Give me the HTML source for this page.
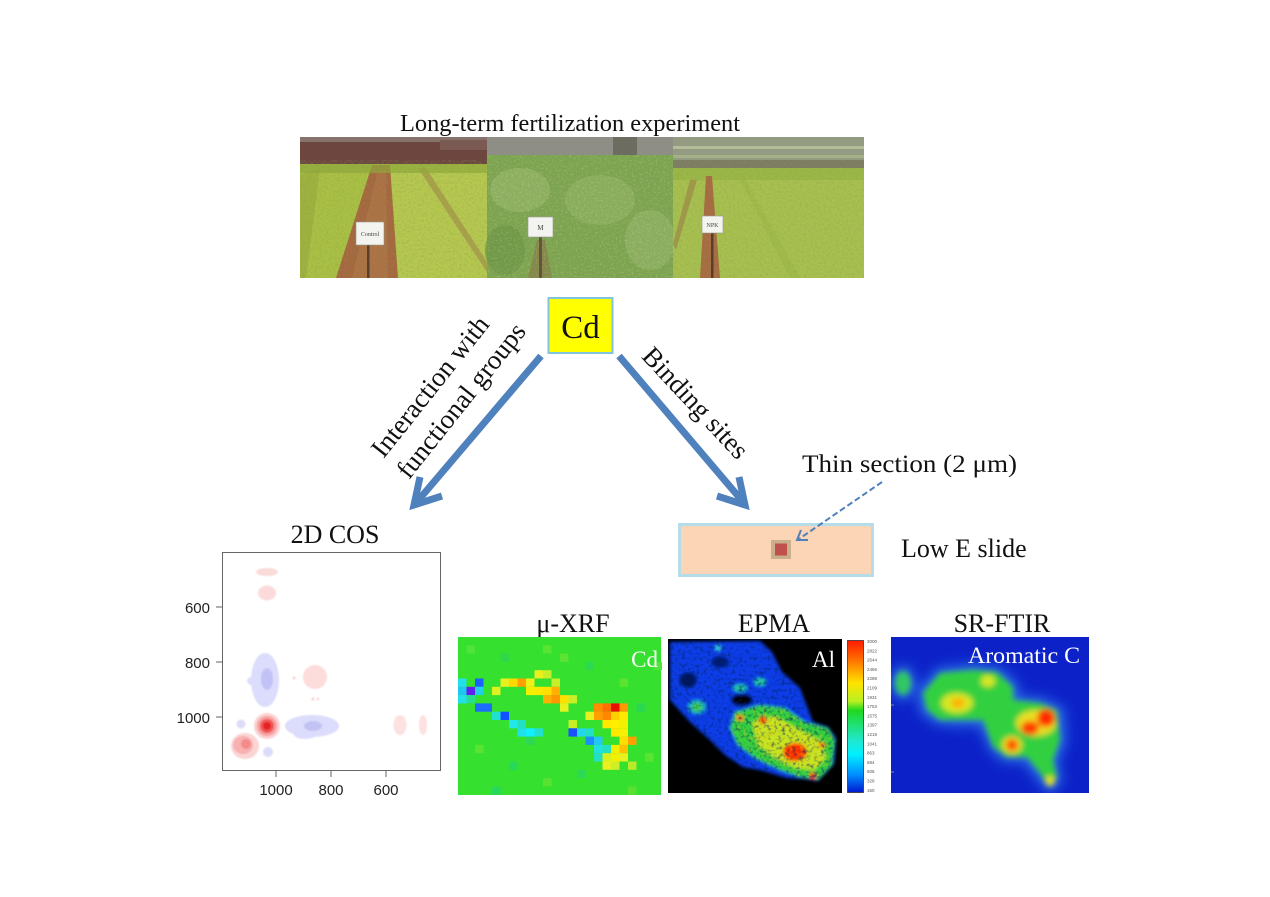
<!DOCTYPE html>
<html><head><meta charset="utf-8">
<style>
html,body{margin:0;padding:0;background:#fff;}
svg{display:block;}
</style></head><body>
<svg width="1270" height="897" viewBox="0 0 1270 897" xmlns="http://www.w3.org/2000/svg">
<defs>
 <filter id="b08"><feGaussianBlur stdDeviation="0.8"/></filter>
 <filter id="b15" x="-20%" y="-20%" width="140%" height="140%"><feGaussianBlur stdDeviation="1.5"/></filter>
 <filter id="b3" x="-20%" y="-20%" width="140%" height="140%"><feGaussianBlur stdDeviation="3"/></filter>
 <filter id="b6" x="-30%" y="-30%" width="160%" height="160%"><feGaussianBlur stdDeviation="6"/></filter>
 <filter id="noise" x="0" y="0" width="100%" height="100%">
   <feTurbulence type="fractalNoise" baseFrequency="0.45" numOctaves="2" seed="5"/>
   <feColorMatrix type="matrix" values="0 0 0 0 0.25  0 0 0 0 0.33  0 0 0 0 0.08  1.8 0 0 0 -0.75"/>
 </filter>
 <filter id="noise2" x="0" y="0" width="100%" height="100%">
   <feTurbulence type="fractalNoise" baseFrequency="0.5" numOctaves="2" seed="11"/>
   <feColorMatrix type="matrix" values="0 0 0 0 0.85  0 0 0 0 0.9  0 0 0 0 0.6  1.8 0 0 0 -0.9"/>
 </filter>
 <filter id="speck" x="0" y="0" width="100%" height="100%">
   <feTurbulence type="fractalNoise" baseFrequency="0.28" numOctaves="2" seed="7"/>
   <feColorMatrix type="matrix" values="0 0 0 0 0  0 0 0 0 0.02  0 0 0 0 0.12  3 0 0 0 -1.45"/>
 </filter>
 <filter id="speck2" x="0" y="0" width="100%" height="100%">
   <feTurbulence type="fractalNoise" baseFrequency="0.3" numOctaves="2" seed="19"/>
   <feColorMatrix type="matrix" values="0 0 0 0 1  0 0 0 0 0.55  0 0 0 0 0  3 0 0 0 -1.6"/>
 </filter>
 <clipPath id="cph"><rect x="300" y="137" width="564" height="141"/></clipPath>
 <clipPath id="cpe"><rect x="668" y="639" width="174" height="154"/></clipPath>
 <clipPath id="cpblob"><polygon points="670,642 760,641 772,652 782,672 800,688 813,722 828,727 836,738 834,764 818,781 806,779 787,778 760,770 743,767 725,755 710,740 690,722 670,700"/></clipPath>
 <clipPath id="cpgreen"><polygon points="735,712 760,705 785,708 805,722 828,728 835,740 832,765 818,780 800,777 780,770 755,758 738,745 730,728"/></clipPath>
 <clipPath id="cpf"><rect x="891" y="637" width="198" height="156"/></clipPath>
 <linearGradient id="cbar" x1="0" y1="0" x2="0" y2="1">
   <stop offset="0" stop-color="#ff1a00"/>
   <stop offset="0.12" stop-color="#ff6a00"/>
   <stop offset="0.28" stop-color="#ffe400"/>
   <stop offset="0.40" stop-color="#b8f020"/>
   <stop offset="0.46" stop-color="#20d820"/>
   <stop offset="0.55" stop-color="#20e070"/>
   <stop offset="0.66" stop-color="#20e8d0"/>
   <stop offset="0.75" stop-color="#00f0ff"/>
   <stop offset="0.88" stop-color="#0090ff"/>
   <stop offset="1" stop-color="#0018d0"/>
 </linearGradient>
</defs>

<rect width="1270" height="897" fill="#fff"/>

<!-- Title -->
<text x="570" y="131" font-family="Liberation Serif, serif" font-size="24" text-anchor="middle" fill="#111" textLength="340" lengthAdjust="spacingAndGlyphs">Long-term fertilization experiment</text>

<!-- Photo -->
<g clip-path="url(#cph)">
 <rect x="300" y="137" width="187" height="141" fill="#b0c44a"/>
 <polygon points="300,165 372,165 336,278 300,278" fill="#a9c044"/>
 <polygon points="390,165 487,165 487,278 398,278" fill="#b6c84f"/>
 <polygon points="372,165 390,165 398,278 336,278" fill="#a6663f"/>
 <polygon points="378,170 386,170 388,278 352,278" fill="#b3764a" opacity="0.6"/>
 <polygon points="418,168 426,168 487,262 487,272" fill="#9a7045" opacity="0.45"/>
 <polygon points="300,175 320,168 306,278 300,278" fill="#98a83c" opacity="0.6"/>
 <rect x="300" y="163" width="187" height="10" fill="#8fa83a" opacity="0.7"/>
 <rect x="300" y="137" width="187" height="27" fill="#6d4640"/>
 <rect x="300" y="137" width="187" height="5" fill="#86746c"/>
 <rect x="440" y="140" width="47" height="10" fill="#7a5a52"/>
 <rect x="487" y="137" width="186" height="141" fill="#7ca450"/>
 <rect x="487" y="137" width="186" height="18" fill="#8e8d86"/>
 <rect x="613" y="137" width="24" height="18" fill="#6c6c60"/>
 <ellipse cx="520" cy="190" rx="30" ry="22" fill="#94b668" opacity="0.7"/>
 <ellipse cx="600" cy="200" rx="35" ry="25" fill="#8fb262" opacity="0.7"/>
 <ellipse cx="650" cy="240" rx="25" ry="30" fill="#96b86a" opacity="0.6"/>
 <ellipse cx="505" cy="250" rx="20" ry="25" fill="#6a9444" opacity="0.7"/>
 <polygon points="537,240 545,240 552,278 528,278" fill="#8a6a42" opacity="0.5"/>
 <rect x="673" y="137" width="191" height="141" fill="#a7c04f"/>
 <rect x="673" y="137" width="191" height="30" fill="#939c82"/>
 <rect x="673" y="146" width="191" height="3" fill="#b4bc98"/>
 <rect x="673" y="155" width="191" height="3" fill="#a4b088"/>
 <rect x="673" y="160" width="191" height="8" fill="#7d7c64"/>
 <rect x="673" y="168" width="191" height="12" fill="#98b444" opacity="0.8"/>
 <polygon points="706,176 712,176 720,278 700,278" fill="#a86a42"/>
 <polygon points="690,180 697,180 676,250 673,244" fill="#9a7044" opacity="0.5"/>
 <polygon points="740,180 746,180 800,278 790,278" fill="#9db848" opacity="0.6"/>
 <rect x="300" y="160" width="564" height="118" filter="url(#noise)" opacity="0.45"/>
 <rect x="487" y="155" width="186" height="123" filter="url(#noise2)" opacity="0.35"/>
 <rect x="367" y="244" width="2.5" height="34" fill="#5a3e2c"/>
 <rect x="356" y="222" width="28" height="23" fill="#f3f3ef" stroke="#9a9a90" stroke-width="0.6"/>
 <text x="370" y="236" font-family="Liberation Serif, serif" font-size="6" text-anchor="middle" fill="#444">Control</text>
 <rect x="539" y="236" width="3" height="42" fill="#6a5040"/>
 <rect x="528" y="217" width="25" height="20" fill="#f3f3ef" stroke="#9a9a90" stroke-width="0.6"/>
 <text x="540.5" y="230" font-family="Liberation Serif, serif" font-size="7" text-anchor="middle" fill="#444">M</text>
 <rect x="711" y="232" width="2.5" height="46" fill="#5a3e2c"/>
 <rect x="702" y="216" width="21" height="17" fill="#f3f3ef" stroke="#9a9a90" stroke-width="0.6"/>
 <text x="712.5" y="227" font-family="Liberation Serif, serif" font-size="6" text-anchor="middle" fill="#444">NPK</text>
</g>

<!-- Cd box -->
<rect x="548.5" y="298" width="64" height="55" fill="#ffff00" stroke="#7fc4dc" stroke-width="2"/>
<text x="580.5" y="338" font-family="Liberation Serif, serif" font-size="33" text-anchor="middle" fill="#111">Cd</text>

<!-- arrows -->
<g stroke="#4f81bd" stroke-width="7" fill="none">
 <line x1="541" y1="356" x2="416" y2="503"/>
 <polyline points="420,477 414,505 442,496" stroke-linejoin="miter"/>
 <line x1="619" y1="356" x2="744" y2="503"/>
 <polyline points="739,477 745,505 717,496" stroke-linejoin="miter"/>
</g>

<!-- rotated labels -->
<g font-family="Liberation Serif, serif" font-size="27" fill="#111" text-anchor="middle">
 <text transform="translate(437,392) rotate(-51.5)">Interaction with</text>
 <text transform="translate(468,406) rotate(-51.5)">functional groups</text>
 <text transform="translate(689,409) rotate(47)">Binding sites</text>
</g>

<!-- thin section -->
<text x="802" y="472" font-family="Liberation Serif, serif" font-size="25" fill="#111" textLength="215" lengthAdjust="spacingAndGlyphs">Thin section (2 μm)</text>
<rect x="679.5" y="524.5" width="193" height="51" fill="#fbd5b5" stroke="#b4dde9" stroke-width="3"/>
<rect x="771" y="540" width="20" height="19" fill="#c9b08a"/>
<rect x="775" y="543.5" width="12" height="12" fill="#c0504d"/>
<line x1="882" y1="482" x2="799" y2="539" stroke="#4f81bd" stroke-width="2" stroke-dasharray="6,3"/>
<polyline points="801,530 797,540 808,540" fill="none" stroke="#4f81bd" stroke-width="2"/>
<text x="901" y="557" font-family="Liberation Serif, serif" font-size="26" fill="#111">Low E slide</text>

<!-- 2D COS -->
<text x="335" y="543" font-family="Liberation Serif, serif" font-size="26" text-anchor="middle" fill="#111">2D COS</text>
<g filter="url(#b08)">
 <ellipse cx="267" cy="572" rx="11" ry="4" fill="#fbdada"/>
 <ellipse cx="267" cy="593" rx="9" ry="7.5" fill="#fcdada"/>
 <ellipse cx="265" cy="680" rx="14" ry="27" fill="#dcdcfc"/>
 <ellipse cx="252" cy="681" rx="5" ry="4" fill="#dcdcfc"/>
 <ellipse cx="267" cy="679" rx="6" ry="11" fill="#c2c2f6"/>
 <ellipse cx="315" cy="677" rx="12" ry="12" fill="#fddcdc"/>
 <circle cx="294" cy="678" r="1.5" fill="#fbd0d0"/>
 <circle cx="313" cy="699" r="1.5" fill="#fbd0d0"/>
 <circle cx="318" cy="699" r="1.3" fill="#fbd0d0"/>
 <ellipse cx="312" cy="726" rx="27" ry="11" fill="#dcdcfc"/>
 <ellipse cx="305" cy="733" rx="12" ry="6" fill="#dcdcfc"/>
 <ellipse cx="313" cy="726" rx="9" ry="5" fill="#c2c2f4"/>
 <ellipse cx="241" cy="724" rx="4.5" ry="4.5" fill="#dcdcfa"/>
 <ellipse cx="268" cy="752" rx="5" ry="5" fill="#dcdcfa"/>
 <ellipse cx="245" cy="746" rx="14" ry="13" fill="#fbd4d4"/>
 <ellipse cx="243" cy="745" rx="10" ry="9" fill="#f8b0b0"/>
 <ellipse cx="246" cy="744" rx="5" ry="5" fill="#f58a8a"/>
 <ellipse cx="267" cy="726" rx="13" ry="13" fill="#fbd0d0"/>
 <ellipse cx="267" cy="726" rx="10" ry="10" fill="#f8a0a0"/>
 <ellipse cx="267" cy="726" rx="7" ry="7" fill="#f05858"/>
 <ellipse cx="267" cy="726" rx="4" ry="4" fill="#e82222"/>
 <ellipse cx="400" cy="725" rx="6.5" ry="10" fill="#fde0e0"/>
 <ellipse cx="423" cy="725" rx="4" ry="10" fill="#fde0e0"/>
</g>
<rect x="222.5" y="552.5" width="218" height="218" fill="none" stroke="#666" stroke-width="1"/>
<g stroke="#666" stroke-width="1">
 <line x1="216" y1="607" x2="222" y2="607"/>
 <line x1="216" y1="662" x2="222" y2="662"/>
 <line x1="216" y1="717" x2="222" y2="717"/>
 <line x1="276" y1="771" x2="276" y2="777"/>
 <line x1="331" y1="771" x2="331" y2="777"/>
 <line x1="386" y1="771" x2="386" y2="777"/>
</g>
<g font-family="Liberation Sans, sans-serif" font-size="15" fill="#222">
 <text x="210" y="613" text-anchor="end">600</text>
 <text x="210" y="668" text-anchor="end">800</text>
 <text x="210" y="723" text-anchor="end">1000</text>
 <text x="276" y="795" text-anchor="middle">1000</text>
 <text x="331" y="795" text-anchor="middle">800</text>
 <text x="386" y="795" text-anchor="middle">600</text>
</g>

<!-- mu-XRF -->
<text x="573" y="632" font-family="Liberation Serif, serif" font-size="26" text-anchor="middle" fill="#111">μ-XRF</text>
<rect x="458" y="637" width="203" height="158" fill="#36e02e"/>
<g>
 <rect x="466.5" y="645.3" width="8.5" height="8.3" fill="#4ee43a"/>
 <rect x="500.5" y="653.6" width="8.5" height="8.3" fill="#2ed84a"/>
 <rect x="543" y="645.3" width="8.5" height="8.3" fill="#58e432"/>
 <rect x="585.5" y="661.9" width="8.5" height="8.3" fill="#2cda50"/>
 <rect x="619.5" y="678.5" width="8.5" height="8.3" fill="#5ae42e"/>
 <rect x="636.5" y="703.4" width="8.5" height="8.3" fill="#28d850"/>
 <rect x="475" y="744.9" width="8.5" height="8.3" fill="#5ae432"/>
 <rect x="509" y="761.5" width="8.5" height="8.3" fill="#28d85a"/>
 <rect x="543" y="778.1" width="8.5" height="8.3" fill="#58e232"/>
 <rect x="577" y="769.8" width="8.5" height="8.3" fill="#2cd856"/>
 <rect x="645" y="753.2" width="8.5" height="8.3" fill="#5ae432"/>
 <rect x="492" y="786.4" width="8.5" height="8.3" fill="#28d85a"/>
 <rect x="628" y="786.4" width="8.5" height="8.3" fill="#5ae030"/>
 <rect x="560" y="653.6" width="8.5" height="8.3" fill="#5ce232"/>
 <rect x="526" y="736.6" width="8.5" height="8.3" fill="#2cd856"/>
 <rect x="653.5" y="661.9" width="8.5" height="8.3" fill="#4ee43a"/>
 <rect x="534.5" y="670.2" width="8.5" height="8.3" fill="#e8f020"/>
 <rect x="543" y="670.2" width="8.5" height="8.3" fill="#c8ee28"/>
 <rect x="458" y="678.5" width="8.5" height="8.3" fill="#22e0e8"/>
 <rect x="475" y="678.5" width="8.5" height="8.3" fill="#1c60ff"/>
 <rect x="500.5" y="678.5" width="8.5" height="8.3" fill="#e8f020"/>
 <rect x="509" y="678.5" width="8.5" height="8.3" fill="#ffd800"/>
 <rect x="517.5" y="678.5" width="8.5" height="8.3" fill="#ffa000"/>
 <rect x="526" y="678.5" width="8.5" height="8.3" fill="#eef018"/>
 <rect x="551.5" y="678.5" width="8.5" height="8.3" fill="#c8ee28"/>
 <rect x="458" y="686.8" width="8.5" height="8.3" fill="#20c8f0"/>
 <rect x="466.5" y="686.8" width="8.5" height="8.3" fill="#6020f0"/>
 <rect x="475" y="686.8" width="8.5" height="8.3" fill="#20d0e8"/>
 <rect x="492" y="686.8" width="8.5" height="8.3" fill="#e0f020"/>
 <rect x="526" y="686.8" width="8.5" height="8.3" fill="#f0f000"/>
 <rect x="534.5" y="686.8" width="8.5" height="8.3" fill="#ffe800"/>
 <rect x="543" y="686.8" width="8.5" height="8.3" fill="#ffe000"/>
 <rect x="551.5" y="686.8" width="8.5" height="8.3" fill="#ffb000"/>
 <rect x="458" y="695.1" width="8.5" height="8.3" fill="#22e0e8"/>
 <rect x="466.5" y="695.1" width="8.5" height="8.3" fill="#28dc90"/>
 <rect x="543" y="695.1" width="8.5" height="8.3" fill="#ffb000"/>
 <rect x="551.5" y="695.1" width="8.5" height="8.3" fill="#ff9800"/>
 <rect x="560" y="695.1" width="8.5" height="8.3" fill="#ffe000"/>
 <rect x="568.5" y="695.1" width="8.5" height="8.3" fill="#c8ee28"/>
 <rect x="475" y="703.4" width="8.5" height="8.3" fill="#1c6cff"/>
 <rect x="483.5" y="703.4" width="8.5" height="8.3" fill="#1c6cff"/>
 <rect x="560" y="703.4" width="8.5" height="8.3" fill="#e8f020"/>
 <rect x="594" y="703.4" width="8.5" height="8.3" fill="#ff8c00"/>
 <rect x="602.5" y="703.4" width="8.5" height="8.3" fill="#ff7000"/>
 <rect x="611" y="703.4" width="8.5" height="8.3" fill="#e81000"/>
 <rect x="619.5" y="703.4" width="8.5" height="8.3" fill="#ff9800"/>
 <rect x="585.5" y="711.7" width="8.5" height="8.3" fill="#e8f020"/>
 <rect x="492" y="711.7" width="8.5" height="8.3" fill="#20e0d0"/>
 <rect x="500.5" y="711.7" width="8.5" height="8.3" fill="#1050ff"/>
 <rect x="594" y="711.7" width="8.5" height="8.3" fill="#ffa000"/>
 <rect x="602.5" y="711.7" width="8.5" height="8.3" fill="#ff8800"/>
 <rect x="611" y="711.7" width="8.5" height="8.3" fill="#ffd000"/>
 <rect x="619.5" y="711.7" width="8.5" height="8.3" fill="#ffe800"/>
 <rect x="509" y="720" width="8.5" height="8.3" fill="#22e8e8"/>
 <rect x="517.5" y="720" width="8.5" height="8.3" fill="#22e0c0"/>
 <rect x="568.5" y="720" width="8.5" height="8.3" fill="#c8ee28"/>
 <rect x="602.5" y="720" width="8.5" height="8.3" fill="#ffe800"/>
 <rect x="611" y="720" width="8.5" height="8.3" fill="#ffee00"/>
 <rect x="619.5" y="720" width="8.5" height="8.3" fill="#f0f000"/>
 <rect x="517.5" y="728.3" width="8.5" height="8.3" fill="#22e0e8"/>
 <rect x="526" y="728.3" width="8.5" height="8.3" fill="#10f0ff"/>
 <rect x="534.5" y="728.3" width="8.5" height="8.3" fill="#22e0d0"/>
 <rect x="568.5" y="728.3" width="8.5" height="8.3" fill="#1a50ff"/>
 <rect x="577" y="728.3" width="8.5" height="8.3" fill="#22d8e8"/>
 <rect x="585.5" y="728.3" width="8.5" height="8.3" fill="#22e0c8"/>
 <rect x="611" y="728.3" width="8.5" height="8.3" fill="#ffe800"/>
 <rect x="619.5" y="728.3" width="8.5" height="8.3" fill="#f8f000"/>
 <rect x="585.5" y="736.6" width="8.5" height="8.3" fill="#1c8cff"/>
 <rect x="594" y="736.6" width="8.5" height="8.3" fill="#22c8f0"/>
 <rect x="619.5" y="736.6" width="8.5" height="8.3" fill="#ffe000"/>
 <rect x="628" y="736.6" width="8.5" height="8.3" fill="#ffa000"/>
 <rect x="594" y="744.9" width="8.5" height="8.3" fill="#22e0e0"/>
 <rect x="602.5" y="744.9" width="8.5" height="8.3" fill="#22e0c0"/>
 <rect x="611" y="744.9" width="8.5" height="8.3" fill="#f0f000"/>
 <rect x="619.5" y="744.9" width="8.5" height="8.3" fill="#ffc000"/>
 <rect x="594" y="753.2" width="8.5" height="8.3" fill="#22e0c0"/>
 <rect x="602.5" y="753.2" width="8.5" height="8.3" fill="#d8f020"/>
 <rect x="611" y="753.2" width="8.5" height="8.3" fill="#f0f000"/>
 <rect x="619.5" y="753.2" width="8.5" height="8.3" fill="#e8f020"/>
 <rect x="602.5" y="761.5" width="8.5" height="8.3" fill="#e8f020"/>
 <rect x="611" y="761.5" width="8.5" height="8.3" fill="#d0ee28"/>
 <rect x="628" y="761.5" width="8.5" height="8.3" fill="#b8ec28"/>
</g>
<text x="658" y="667" font-family="Liberation Serif, serif" font-size="23" text-anchor="end" fill="#fff">Cd</text>

<!-- EPMA -->
<text x="774" y="632" font-family="Liberation Serif, serif" font-size="26" text-anchor="middle" fill="#111">EPMA</text>
<rect x="668" y="639" width="174" height="154" fill="#000"/>
<g clip-path="url(#cpe)">
 <g filter="url(#b15)">
  <polygon points="670,642 760,641 772,652 782,672 800,688 813,722 828,727 836,738 834,764 818,781 806,779 787,778 760,770 743,767 725,755 710,740 690,722 670,700" fill="#083ee8"/>
  <ellipse cx="742" cy="700" rx="11" ry="6" fill="#000"/>
  <ellipse cx="688" cy="680" rx="9" ry="8" fill="#000" opacity="0.6"/>
  <ellipse cx="720" cy="662" rx="9" ry="6" fill="#000" opacity="0.5"/>
  <ellipse cx="697" cy="707" rx="9" ry="7" fill="#1fb0c0"/>
  <ellipse cx="697" cy="707" rx="5" ry="4" fill="#40d040"/>
  <ellipse cx="740" cy="688" rx="7" ry="4" fill="#20c0a0"/>
  <ellipse cx="760" cy="682" rx="6" ry="4" fill="#20c8a0"/>
  <ellipse cx="718" cy="648" rx="3" ry="3" fill="#30c8d0"/>
  <polygon points="735,712 760,705 785,708 805,722 828,728 835,740 832,765 818,780 800,777 780,770 755,758 738,745 730,728" fill="#30d040"/>
  <polygon points="752,722 775,716 800,730 820,740 826,758 814,770 795,768 775,758 758,745" fill="#c8e424"/>
  <ellipse cx="795" cy="752" rx="12" ry="9" fill="#ff3000"/>
  <ellipse cx="763" cy="720" rx="4" ry="4" fill="#ff4000"/>
  <ellipse cx="740" cy="718" rx="4" ry="3" fill="#ff8000"/>
  <ellipse cx="813" cy="776" rx="3.5" ry="3.5" fill="#ff2000"/>
  <ellipse cx="822" cy="745" rx="3" ry="3" fill="#ff7000"/>
 </g>
 <g clip-path="url(#cpblob)">
  <rect x="668" y="639" width="174" height="154" filter="url(#speck)" opacity="0.6"/>
 </g>
 <g clip-path="url(#cpgreen)">
  <rect x="668" y="639" width="174" height="154" filter="url(#speck2)" opacity="0.5"/>
 </g>
</g>
<text x="835" y="667" font-family="Liberation Serif, serif" font-size="23" text-anchor="end" fill="#fff">Al</text>
<rect x="847.5" y="640.5" width="16" height="152" fill="url(#cbar)" stroke="#333" stroke-width="0.8"/>
<g font-family="Liberation Sans, sans-serif" font-size="4.5" fill="#555">
 <text x="867" y="643">3000</text><text x="867" y="652.3">2822</text><text x="867" y="661.6">2644</text>
 <text x="867" y="670.9">2466</text><text x="867" y="680.2">2288</text><text x="867" y="689.5">2109</text>
 <text x="867" y="698.8">1931</text><text x="867" y="708.1">1753</text><text x="867" y="717.4">1575</text>
 <text x="867" y="726.7">1397</text><text x="867" y="736">1219</text><text x="867" y="745.3">1041</text>
 <text x="867" y="754.6">863</text><text x="867" y="763.9">684</text><text x="867" y="773.2">506</text>
 <text x="867" y="782.5">328</text><text x="867" y="791.8">150</text>
</g>

<!-- SR-FTIR -->
<text x="1002" y="632" font-family="Liberation Serif, serif" font-size="26" text-anchor="middle" fill="#111">SR-FTIR</text>
<rect x="891" y="637" width="198" height="156" fill="#0c22c8"/>
<g clip-path="url(#cpf)">
 <g filter="url(#b6)">
  <polygon points="918,690 938,668 975,664 1000,668 1018,684 1018,696 1042,698 1064,708 1066,742 1058,762 1062,782 1050,794 1036,778 1024,762 1004,762 990,750 980,726 958,726 936,724 920,712" fill="#2a70e8"/>
  <ellipse cx="903" cy="683" rx="12" ry="17" fill="#2a70e8"/>
 </g>
 <g filter="url(#b3)">
  <polygon points="923,693 940,673 973,670 997,672 1013,687 1013,700 1040,703 1057,710 1060,740 1053,760 1057,777 1050,787 1040,773 1027,757 1007,757 993,747 983,720 960,720 940,720 927,710" fill="#30d040"/>
  <ellipse cx="903" cy="683" rx="8" ry="12" fill="#30c860"/>
  <ellipse cx="957" cy="703" rx="16" ry="10" fill="#d8e820"/>
  <ellipse cx="988" cy="681" rx="7" ry="6" fill="#d8e820"/>
  <ellipse cx="1036" cy="723" rx="20" ry="13" fill="#e8e020"/>
  <ellipse cx="1012" cy="745" rx="10" ry="9" fill="#e8e020"/>
  <ellipse cx="1050" cy="781" rx="5" ry="5" fill="#e8e020"/>
  <ellipse cx="1046" cy="718" rx="9" ry="9" fill="#ff2a00"/>
  <ellipse cx="1030" cy="728" rx="9" ry="7" fill="#ff3a00"/>
  <ellipse cx="1012" cy="745" rx="6" ry="6" fill="#ff4a00"/>
  <ellipse cx="958" cy="703" rx="7" ry="5" fill="#ffb000"/>
 </g>
</g>
<g stroke="#888" stroke-width="1">
 <line x1="891" y1="705" x2="894" y2="705"/>
 <line x1="891" y1="772" x2="894" y2="772"/>
</g>
<text x="968" y="663" font-family="Liberation Serif, serif" font-size="23" fill="#fff" textLength="112" lengthAdjust="spacingAndGlyphs">Aromatic C</text>
</svg>
</body></html>
